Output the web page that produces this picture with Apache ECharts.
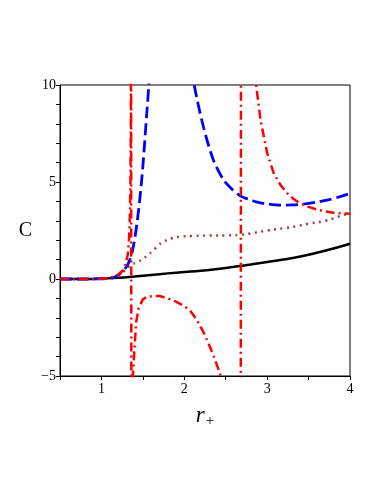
<!DOCTYPE html>
<html>
<head>
<meta charset="utf-8">
<script src="https://cdn.jsdelivr.net/npm/echarts@6/dist/echarts.min.js"></script>
<style>
    html, body { margin: 0; padding: 0; background: #fff; }
    #chart { width: 382px; height: 494px; }
</style>
</head>
<body>
<div id="chart"></div>
<script>
// 曲线数据 [r+, C]
const blackLine = [
    [0.5, 0], [0.9, 0.005], [1.0, 0.02], [1.2, 0.06], [1.4, 0.13], [1.6, 0.21],
    [1.8, 0.29], [2.0, 0.36], [2.2, 0.43], [2.4, 0.52], [2.6, 0.63], [2.8, 0.75],
    [3.0, 0.88], [3.2, 1.01], [3.4, 1.16], [3.6, 1.35], [3.8, 1.57], [4.0, 1.82]
]
const blueLine = [
    [0.5, 0], [0.8, 0], [1.0, 0.01], [1.13, 0.05], [1.2, 0.2], [1.25, 0.4],
    [1.31, 0.68], [1.37, 1.37], [1.43, 2.9], [1.49, 5.3], [1.55, 8.7], [1.57, 9.9],
    [1.6, 12], [1.75, 18], [1.85, 20], [1.95, 16], [2.05, 12], [2.12, 10],
    [2.23, 7.86], [2.35, 6.15], [2.47, 5.13], [2.57, 4.65], [2.67, 4.3], [2.78, 4.1],
    [2.88, 3.96], [3.0, 3.87], [3.16, 3.81], [3.3, 3.82], [3.48, 3.88], [3.62, 3.98],
    [3.76, 4.1], [3.9, 4.27], [4.0, 4.41]
]
const redLine = [
    [0.5, 0], [0.8, 0], [1.0, 0.01], [1.1, 0.06], [1.2, 0.22], [1.25, 0.4],
    [1.29, 0.75], [1.32, 1.3], [1.335, 2.2], [1.345, 3.5], [1.35, 5], [1.355, 8],
    [1.358, 15], [1.362, -15], [1.372, -7], [1.38, -5], [1.4, -3.5], [1.42, -2.2],
    [1.45, -1.5], [1.5, -1.05], [1.55, -0.92], [1.63, -0.87], [1.7, -0.88], [1.8, -1.0],
    [1.9, -1.17], [2.0, -1.4], [2.07, -1.62], [2.15, -2.1], [2.23, -2.73], [2.3, -3.4],
    [2.35, -3.92], [2.43, -4.86], [2.5, -6], [2.6, -9], [2.68, -20],
    [2.686, 30], [2.8, 14], [2.87, 9.9], [2.92, 8.2], [3.0, 6.5], [3.08, 5.45],
    [3.16, 4.85], [3.24, 4.43], [3.32, 4.12], [3.4, 3.89], [3.5, 3.72], [3.6, 3.58],
    [3.7, 3.48], [3.8, 3.41], [3.9, 3.38], [4.0, 3.36]
]
const dotLine = [
    [0.5, 0], [1.0, 0.01], [1.1, 0.05], [1.2, 0.18], [1.27, 0.4], [1.35, 0.7],
    [1.42, 0.85], [1.49, 1.0], [1.55, 1.2], [1.62, 1.45], [1.69, 1.75], [1.75, 1.92],
    [1.85, 2.1], [1.95, 2.18], [2.1, 2.22], [2.3, 2.24], [2.5, 2.25], [2.67, 2.27],
    [2.8, 2.35], [3.0, 2.5], [3.2, 2.62], [3.35, 2.72], [3.5, 2.85], [3.7, 3.0],
    [3.85, 3.2], [4.0, 3.4]
]
// 刻度
const xTicks = [0.5, 1, 1.5, 2, 2.5, 3, 3.5, 4]
const xLabels = [1, 2, 3, 4]
const yTicks = [-5, -4, -3, -2, -1, 0, 1, 2, 3, 4, 5, 6, 7, 8, 9, 10]
const yLabels = [-5, 0, 5, 10]

const chart = echarts.init(document.getElementById('chart'))
const serif = 'Liberation Serif'

const option = {
    animation: false,
    grid: {
        left: 60,
        right: 32,
        top: 85,
        bottom: 118,
        show: true,
        borderColor: '#000',
        borderWidth: 1,
    },
    xAxis: {
        type: 'value',
        min: 0.5,
        max: 4,
        name: '{r|r}{s|+}',
        nameLocation: 'middle',
        nameGap: 26,
        nameTextStyle: {
            rich: {
                r: { fontFamily: serif, fontStyle: 'italic', fontSize: 23, color: '#000' },
                s: { fontFamily: serif, fontSize: 15, color: '#000', padding: [12, 0, 0, 1] },
            },
        },
        // 坐标轴固定在底部，不跟随0刻度
        axisLine: { onZero: false, lineStyle: { color: '#000', width: 1 } },
        axisTick: { customValues: xTicks, length: 4, lineStyle: { color: '#000' } },
        axisLabel: {
            customValues: xLabels,
            fontFamily: serif,
            fontSize: 14,
            color: '#000',
            margin: 6,
        },
        splitLine: { show: false },
    },
    yAxis: {
        type: 'value',
        min: -5,
        max: 10,
        interval: 5,
        name: 'C',
        nameLocation: 'middle',
        nameRotate: 0,
        nameGap: 28,
        nameTextStyle: { fontFamily: serif, fontSize: 20, color: '#000' },
        axisLine: { show: true, onZero: false, lineStyle: { color: '#000', width: 1 } },
        axisTick: { show: true, customValues: yTicks, length: 4, lineStyle: { color: '#000' } },
        axisLabel: {
            customValues: yLabels,
            fontFamily: serif,
            fontSize: 14,
            color: '#000',
            margin: 4,
            formatter: (v) => (v < 0 ? '\u2212' + Math.abs(v) : String(v)),
        },
        splitLine: { show: false },
    },
    series: [
        {
            type: 'line',
            data: blackLine,
            showSymbol: false,
            smooth: true,
            lineStyle: { color: '#000', width: 2.5 },
            z: 2,
        },
        {
            type: 'line',
            data: dotLine,
            showSymbol: false,
            smooth: true,
            lineStyle: { color: '#b03a3a', width: 2.5, type: [2, 4.5] },
            z: 3,
        },
        {
            type: 'line',
            data: blueLine,
            showSymbol: false,
            smooth: 0.3,
            lineStyle: { color: '#0000ff', width: 2.8, type: [12, 5] },
            z: 4,
        },
        {
            type: 'line',
            data: redLine,
            showSymbol: false,
            lineStyle: { color: '#ff0000', width: 2.5, type: [9, 4, 2, 4] },
            z: 5,
        },
    ],
}
chart.setOption(option)
</script>
</body>
</html>
